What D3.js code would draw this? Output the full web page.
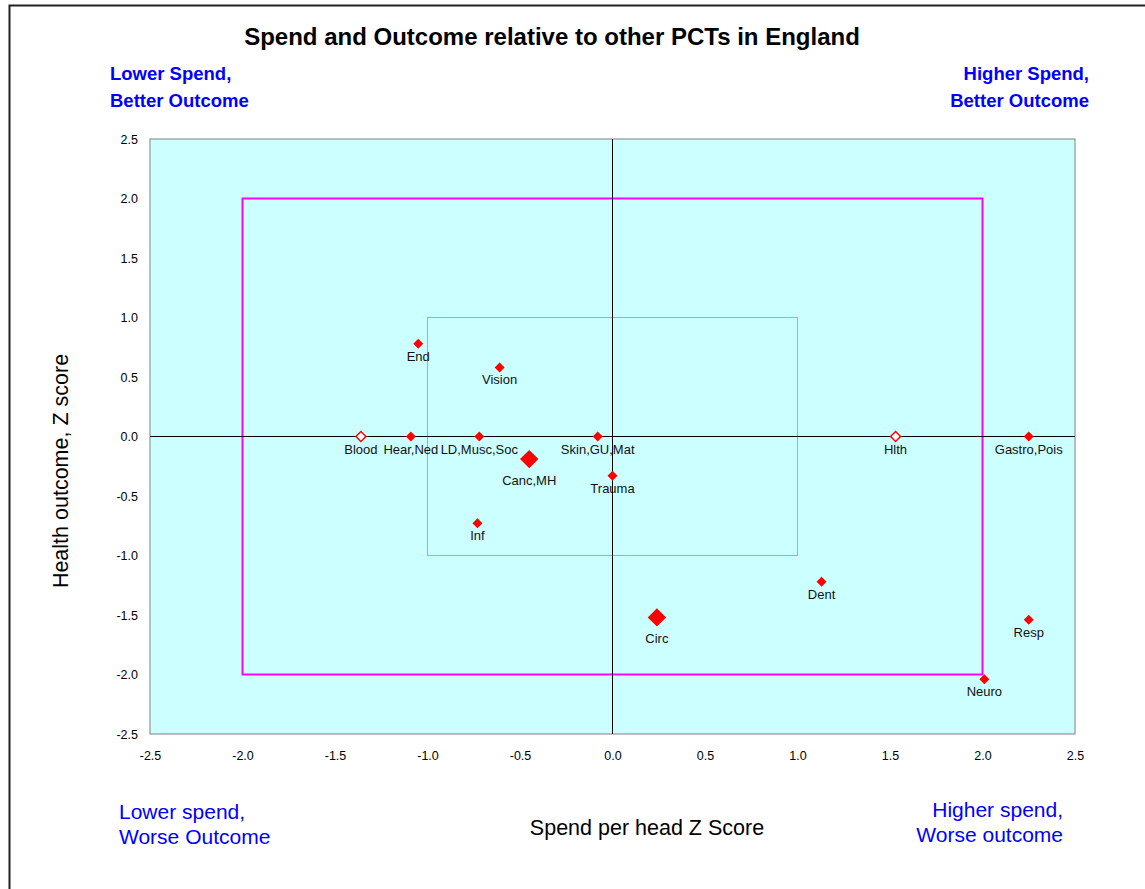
<!DOCTYPE html>
<html>
<head>
<meta charset="utf-8">
<script src="https://cdn.jsdelivr.net/npm/d3@7"></script>
<style>
  body { margin: 0; background: #fff; }
  text { font-family: "Liberation Sans", Arial, sans-serif; }
</style>
</head>
<body>
<div id="chart"></div>
<script>
// data
const labels = ['End', 'Vision', 'Blood', 'Hear,Ned', 'LD,Musc,Soc', 'Canc,MH', 'Skin,GU,Mat',
  'Trauma', 'Inf', 'Hlth', 'Gastro,Pois', 'Dent', 'Circ', 'Resp', 'Neuro']
const spendZ = [-1.05, -0.61, -1.36, -1.09, -0.72, -0.45, -0.08, 0.0, -0.73, 1.53, 2.25, 1.13, 0.24, 2.25, 2.01]
const outcomeZ = [0.78, 0.58, 0.0, 0.0, 0.0, -0.19, 0.0, -0.33, -0.73, 0.0, 0.0, -1.22, -1.52, -1.54, -2.04]
// marker kind: 'n' normal, 'l' large, 'o' open
const kinds = ['n', 'n', 'o', 'n', 'n', 'l', 'n', 'n', 'n', 'o', 'n', 'n', 'l', 'n', 'n']
const ticks = [-2.5, -2.0, -1.5, -1.0, -0.5, 0.0, 0.5, 1.0, 1.5, 2.0, 2.5]

const width = 1145, height = 889
const margin = { top: 139, left: 150, right: 70, bottom: 155 }

const svg = d3.select('#chart')
  .append('svg')
  .attr('width', width)
  .attr('height', height)

// outer chart frame
svg.append('rect')
  .attr('x', 9.5).attr('y', 5.5)
  .attr('width', width + 20).attr('height', height + 20)
  .attr('fill', '#fff')
  .attr('stroke', '#222')
  .attr('stroke-width', 2)

const x = d3.scaleLinear().domain([-2.5, 2.5]).range([margin.left, width - margin.right])
const y = d3.scaleLinear().domain([-2.5, 2.5]).range([height - margin.bottom, margin.top])

// plot area
svg.append('rect')
  .attr('x', x(-2.5)).attr('y', y(2.5))
  .attr('width', x(2.5) - x(-2.5)).attr('height', y(-2.5) - y(2.5))
  .attr('fill', '#ccffff')
  .attr('stroke', '#808080')
  .attr('stroke-width', 1)

// +-1 box (dotted) and +-2 box
svg.append('rect')
  .attr('x', x(-1)).attr('y', y(1))
  .attr('width', x(1) - x(-1)).attr('height', y(-1) - y(1))
  .attr('fill', 'none')
  .attr('stroke', '#ff00ff')
  .attr('stroke-width', 1)
  .attr('stroke-dasharray', '1,1')

svg.append('rect')
  .attr('x', x(-2)).attr('y', y(2))
  .attr('width', x(2) - x(-2)).attr('height', y(-2) - y(2))
  .attr('fill', 'none')
  .attr('stroke', '#ff00ff')
  .attr('stroke-width', 2)

// zero lines
svg.append('line')
  .attr('x1', x(-2.5)).attr('x2', x(2.5))
  .attr('y1', y(0)).attr('y2', y(0))
  .attr('stroke', '#000')
svg.append('line')
  .attr('x1', x(0)).attr('x2', x(0))
  .attr('y1', y(2.5)).attr('y2', y(-2.5))
  .attr('stroke', '#000')

// axes
const fmt = d => d.toFixed(1)
const xAxis = svg.append('g')
  .attr('transform', `translate(0, ${y(-2.5)})`)
  .call(d3.axisBottom(x).tickValues(ticks).tickFormat(fmt).tickSize(0).tickPadding(17))
const yAxis = svg.append('g')
  .attr('transform', `translate(${x(-2.5)}, 0)`)
  .call(d3.axisLeft(y).tickValues(ticks).tickFormat(fmt).tickSize(0).tickPadding(12))
;[xAxis, yAxis].forEach(g => {
  g.select('.domain').remove()
  g.selectAll('text')
    .attr('font-size', 12.5)
    .attr('fill', '#000')
    .style('font-family', '"Liberation Sans", Arial, sans-serif')
})

// points
const pts = labels.map((label, i) => ({ label, sx: spendZ[i], oy: outcomeZ[i], kind: kinds[i] }))
const symSmall = d3.symbol(d3.symbolSquare, 50)
const symLarge = d3.symbol(d3.symbolSquare, 170)

const g = svg.append('g')
g.selectAll('path.pt')
  .data(pts)
  .join('path')
  .attr('class', 'pt')
  .attr('transform', d => `translate(${x(d.sx)}, ${y(d.oy)}) rotate(45)`)
  .attr('d', d => d.kind === 'l' ? symLarge() : symSmall())
  .attr('fill', d => d.kind === 'o' ? '#fff' : '#ff0000')
  .attr('stroke', d => d.kind === 'o' ? '#ff0000' : 'none')
  .attr('stroke-width', 1.5)

g.selectAll('text.lbl')
  .data(pts)
  .join('text')
  .attr('class', 'lbl')
  .attr('x', d => x(d.sx))
  .attr('y', d => y(d.oy) + (d.kind === 'l' ? 26 : 17))
  .attr('text-anchor', 'middle')
  .attr('font-size', 13)
  .attr('fill', '#111')
  .text(d => d.label)

// titles
svg.append('text')
  .attr('x', 552).attr('y', 45)
  .attr('text-anchor', 'middle')
  .attr('font-size', 24)
  .attr('font-weight', 'bold')
  .text('Spend and Outcome relative to other PCTs in England')

svg.append('text')
  .attr('x', 647).attr('y', 835)
  .attr('text-anchor', 'middle')
  .attr('font-size', 21.5)
  .text('Spend per head Z Score')

svg.append('text')
  .attr('transform', 'translate(68, 471) rotate(-90)')
  .attr('text-anchor', 'middle')
  .attr('font-size', 21.5)
  .text('Health outcome, Z score')

// quadrant notes
const notes = [
  { lines: ['Lower Spend,', 'Better Outcome'], x: 110, y: 80, anchor: 'start', bold: true, size: 18.5, gap: 27 },
  { lines: ['Higher Spend,', 'Better Outcome'], x: 1089, y: 80, anchor: 'end', bold: true, size: 18.5, gap: 27 },
  { lines: ['Lower spend,', 'Worse Outcome'], x: 119, y: 819, anchor: 'start', bold: false, size: 21, gap: 25 },
  { lines: ['Higher spend,', 'Worse outcome'], x: 1063, y: 817, anchor: 'end', bold: false, size: 21, gap: 25 }
]
notes.forEach(n => {
  n.lines.forEach((line, i) => {
    svg.append('text')
      .attr('x', n.x).attr('y', n.y + i * n.gap)
      .attr('text-anchor', n.anchor)
      .attr('font-size', n.size)
      .attr('font-weight', n.bold ? 'bold' : 'normal')
      .attr('fill', '#0000ff')
      .text(line)
  })
})
</script>
</body>
</html>
